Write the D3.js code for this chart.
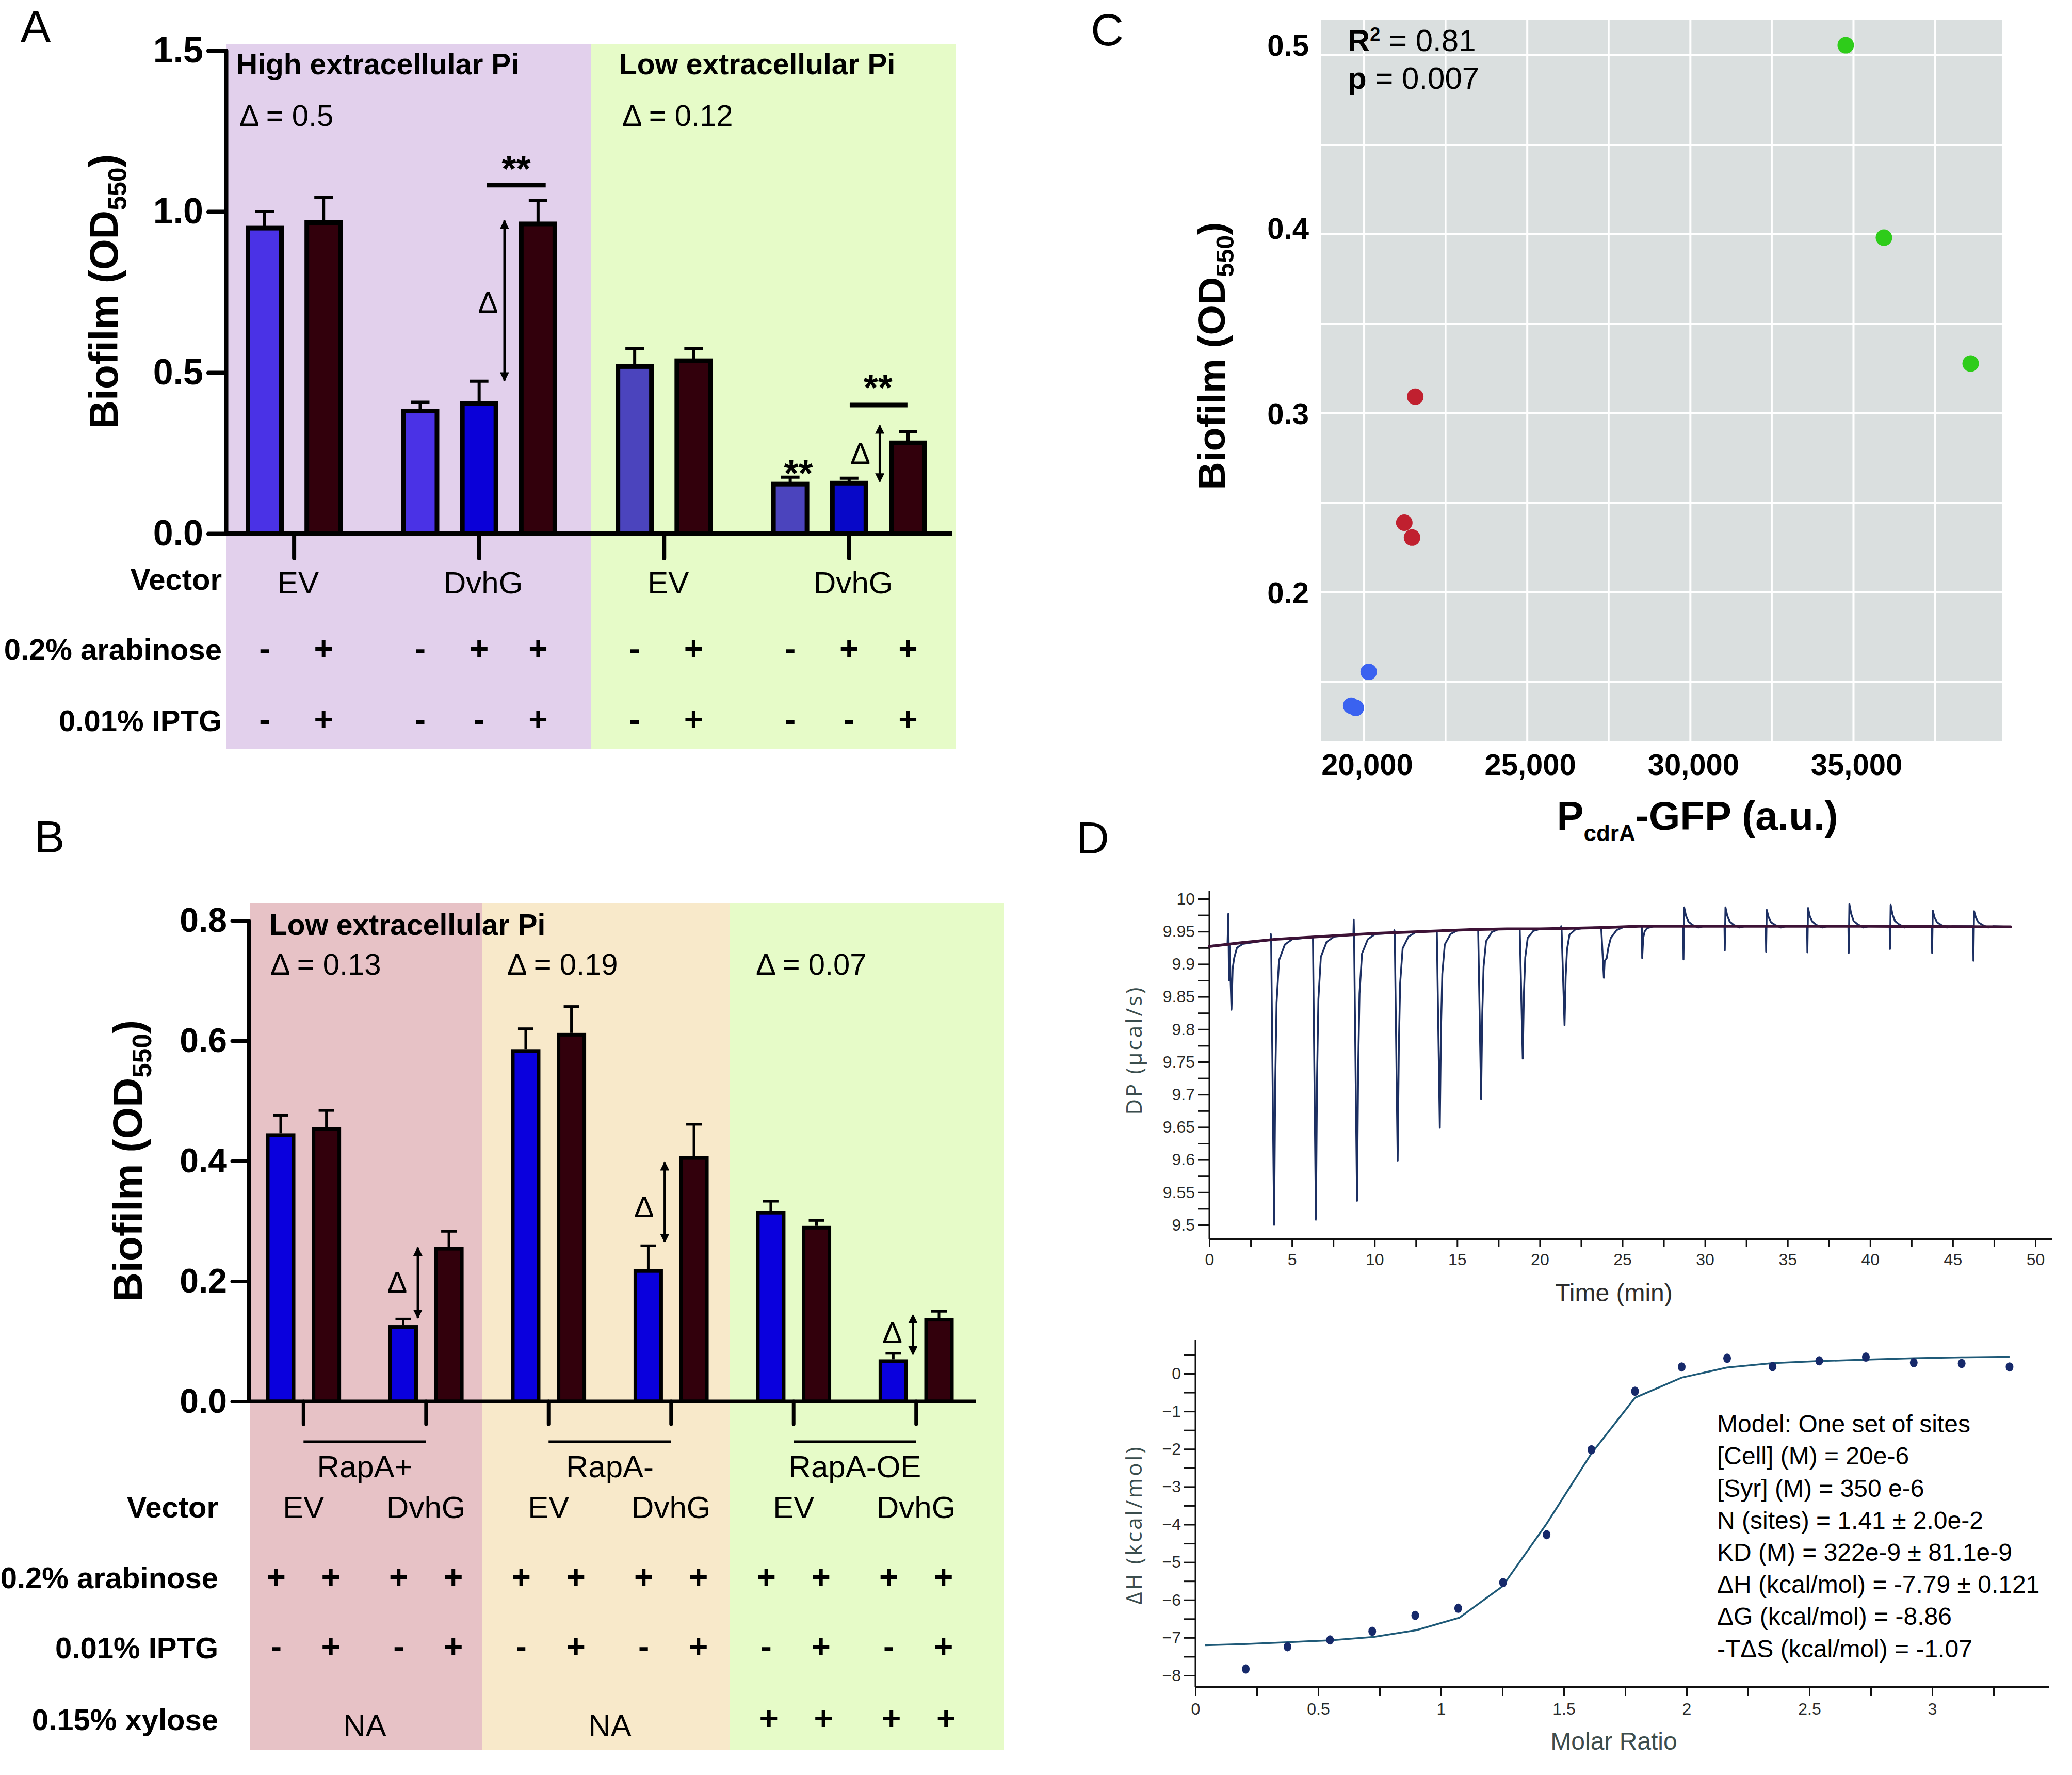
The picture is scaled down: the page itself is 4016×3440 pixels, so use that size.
<!DOCTYPE html>
<html><head><meta charset="utf-8">
<script src="https://cdn.jsdelivr.net/npm/d3@7"></script>
<style>
body{margin:0;background:#fff}
svg{display:block}
</style></head><body>
<svg id="c" width="4016" height="3440"></svg>
<script>
// ================= DATA =================
// Panel A
const aGroupNames = ["EV","DvhG","EV","DvhG"];
const aBarGroup   = [0,0,1,1,1,2,2,3,3,3];
const aValues     = [0.955,0.972,0.387,0.411,0.968,0.525,0.543,0.160,0.163,0.288];
const aErrTop     = [1.000,1.044,0.408,0.473,1.035,0.575,0.575,0.175,0.172,0.317];
const aArabinose  = ["-","+","-","+","+","-","+","-","+","+"];
const aIPTG       = ["-","+","-","-","+","-","+","-","-","+"];
const aKind       = ["hiCtrl","induced","hiCtrl","uninduced","induced","loCtrl","induced","loCtrl","uninducedLo","induced"];
const aPhases     = ["High extracellular Pi","Low extracellular Pi"];
const aDeltas     = ["Δ = 0.5","Δ = 0.12"];
const aYTicks     = [0,0.5,1.0,1.5];

// Panel B
const bStrains    = ["RapA+","RapA-","RapA-OE"];
const bVectors    = ["EV","DvhG","EV","DvhG","EV","DvhG"];
const bValues     = [0.446,0.456,0.127,0.257,0.586,0.613,0.220,0.408,0.317,0.292,0.070,0.139];
const bErrTop     = [0.476,0.484,0.137,0.283,0.620,0.657,0.259,0.461,0.333,0.301,0.080,0.150];
const bArabinose  = ["+","+","+","+","+","+","+","+","+","+","+","+"];
const bIPTG       = ["-","+","-","+","-","+","-","+","-","+","-","+"];
const bXylose     = ["NA","NA","+"];
const bDeltas     = ["Δ = 0.13","Δ = 0.19","Δ = 0.07"];
const bYTicks     = [0,0.2,0.4,0.6,0.8];

// Panel C
const cGFP        = [34762,35933,38591,21567,21230,21468,20139,19603,19742];
const cBiofilm    = [0.5056,0.3981,0.3278,0.3093,0.2389,0.2306,0.1556,0.1367,0.1355];
const cStrain     = ["RapA-OE","RapA-OE","RapA-OE","RapA-","RapA-","RapA-","RapA+","RapA+","RapA+"];
const cXMajor     = [20000,25000,30000,35000];
const cXMinor     = [22500,27500,32500,37500];
const cYMajor     = [0.2,0.3,0.4,0.5];
const cYMinor     = [0.15,0.25,0.35,0.45];

// Panel D (thermogram)
const dpTrace = [
[0,9.928],[0.6,9.929],[1.1,9.930],[1.15,9.977],[1.19,9.875],[1.22,9.930],[1.34,9.830],[1.41,9.893],[1.5,9.909],[1.67,9.925],[2.03,9.931],[2.8,9.934],
[3.70,9.937],[3.72,9.946],[3.74,9.937],[3.92,9.500],[3.99,9.719],[4.07,9.841],[4.22,9.906],[4.57,9.930],[5.02,9.938],[5.8,9.940],
[6.23,9.941],[6.27,9.941],[6.45,9.508],[6.52,9.725],[6.60,9.846],[6.75,9.911],[7.10,9.934],[7.55,9.942],[8.3,9.944],
[8.72,9.945],[8.74,9.968],[8.76,9.945],[8.94,9.537],[9.01,9.741],[9.09,9.855],[9.24,9.916],[9.59,9.938],[10.04,9.946],[10.8,9.947],
[11.18,9.948],[11.2,9.952],[11.22,9.948],[11.40,9.598],[11.47,9.773],[11.55,9.871],[11.70,9.924],[12.05,9.942],[12.5,9.949],[13.3,9.950],
[13.73,9.951],[13.77,9.951],[13.95,9.649],[14.02,9.800],[14.10,9.885],[14.25,9.930],[14.60,9.946],[15.05,9.952],[15.8,9.953],
[16.23,9.953],[16.27,9.953],[16.45,9.693],[16.52,9.823],[16.60,9.896],[16.75,9.935],[17.10,9.949],[17.55,9.954],[18.3,9.954],
[18.75,9.954],[18.79,9.954],[18.97,9.755],[19.04,9.855],[19.12,9.910],[19.27,9.940],[19.62,9.951],[20.07,9.954],[20.8,9.954],
[21.28,9.955],[21.3,9.958],[21.32,9.955],[21.50,9.806],[21.57,9.881],[21.65,9.922],[21.80,9.945],[22.15,9.953],[22.6,9.955],[23.3,9.956],
[23.68,9.956],[23.72,9.956],[23.88,9.879],[23.93,9.905],[24.05,9.909],[24.15,9.925],[24.3,9.940],[24.65,9.952],[25.1,9.957],[25.8,9.958],
[26.18,9.958],[26.2,9.909],[26.26,9.940],[26.35,9.950],[26.5,9.955],[26.9,9.958],[28.3,9.958],
[28.68,9.958],[28.7,9.907],[28.74,9.987],[28.85,9.974],[29.0,9.965],[29.25,9.960],[29.6,9.956],[29.9,9.958],[30.8,9.958],
[31.18,9.958],[31.2,9.921],[31.24,9.987],[31.35,9.974],[31.5,9.965],[31.75,9.960],[32.1,9.956],[32.4,9.958],[33.3,9.958],
[33.68,9.958],[33.7,9.919],[33.74,9.983],[33.85,9.972],[34.0,9.964],[34.25,9.960],[34.6,9.956],[34.9,9.958],[35.8,9.958],
[36.18,9.958],[36.2,9.918],[36.24,9.986],[36.35,9.973],[36.5,9.965],[36.75,9.960],[37.1,9.956],[37.4,9.958],[38.3,9.958],
[38.68,9.958],[38.7,9.917],[38.74,9.992],[38.85,9.977],[39.0,9.966],[39.25,9.961],[39.6,9.956],[39.9,9.958],[40.8,9.958],
[41.18,9.958],[41.2,9.923],[41.24,9.991],[41.35,9.976],[41.5,9.966],[41.75,9.961],[42.1,9.956],[42.4,9.958],[43.3,9.958],
[43.73,9.958],[43.75,9.917],[43.79,9.982],[43.9,9.971],[44.05,9.964],[44.3,9.960],[44.65,9.956],[44.95,9.958],[45.8,9.958],
[46.23,9.958],[46.25,9.905],[46.29,9.981],[46.4,9.971],[46.55,9.964],[46.8,9.960],[47.15,9.956],[47.45,9.958],[48.5,9.957]
];
const dpBaseline = [[0,9.927],[2,9.933],[4,9.938],[6,9.941],[8,9.944],[10,9.947],[12,9.949],[14,9.951],[16,9.953],[18,9.954],[20,9.954],[22,9.955],[24,9.956],[26,9.958],[30,9.958],[40,9.958],[48.5,9.957]];
const dpTicks   = [9.5,9.55,9.6,9.65,9.7,9.75,9.8,9.85,9.9,9.95,10];
const timeTicks = [0,5,10,15,20,25,30,35,40,45,50];

// Panel D (binding isotherm)
const molarRatio = [0.205,0.375,0.548,0.72,0.895,1.07,1.2525,1.43,1.6125,1.79,1.98,2.165,2.35,2.54,2.73,2.925,3.12,3.315];
const deltaH     = [-7.83,-7.24,-7.06,-6.83,-6.41,-6.22,-5.54,-4.27,-2.02,-0.467,0.176,0.406,0.184,0.337,0.437,0.29,0.268,0.176];
const fitRatio   = [0.04,0.2,0.375,0.55,0.725,0.9,1.075,1.25,1.43,1.61,1.79,1.98,2.165,2.35,2.54,2.73,2.925,3.12,3.315];
const fitDH      = [-7.2,-7.17,-7.12,-7.07,-6.98,-6.8,-6.47,-5.64,-3.98,-2.14,-0.64,-0.107,0.16,0.276,0.33,0.37,0.406,0.43,0.444];
const dhTicks    = [-8,-7,-6,-5,-4,-3,-2,-1,0];
const ratioTicks = [0,0.5,1,1.5,2,2.5,3];
const modelText  = ["Model: One set of sites","[Cell] (M) = 20e-6","[Syr] (M) = 350 e-6","N (sites) = 1.41 ± 2.0e-2","KD (M) = 322e-9 ± 81.1e-9","ΔH (kcal/mol) = -7.79 ± 0.121","ΔG (kcal/mol) = -8.86","-TΔS (kcal/mol) = -1.07"];

// ================= STYLE =================
const F = '"Liberation Sans", Arial, Helvetica, sans-serif';
const aColor = {hiCtrl:"#4a32e6", induced:"#32000c", uninduced:"#0a00d8", loCtrl:"#4b44bd", uninducedLo:"#0808c8"};
const bColor = ["#0a00dd","#32000c"];
const cColor = {"RapA-OE":"#2ecc1a","RapA-":"#c0202f","RapA+":"#3a62f0"};

const svg = d3.select("#c");
svg.append("rect").attr("width",4016).attr("height",3440).attr("fill","#fff");
const defs = svg.append("defs");
defs.append("marker").attr("id","ah").attr("viewBox","0 0 10 10").attr("refX",9).attr("refY",5)
  .attr("markerWidth",4).attr("markerHeight",4).attr("orient","auto-start-reverse")
  .append("path").attr("d","M0,0 L10,5 L0,10 z").attr("fill","#000");

function T(g, x, y, s, o={}) {
  const t = g.append("text").attr("x",x).attr("y",y).attr("font-family",o.family||F)
    .attr("font-size",o.size||58).attr("font-weight",o.weight||"normal")
    .attr("text-anchor",o.anchor||"start").attr("fill",o.fill||"#000").attr("dy",o.dy===undefined?"0.36em":o.dy);
  if (o.ls) t.attr("letter-spacing",o.ls);
  t.text(s);
  return t;
}
function ytitle(g, x, y, size) {
  const t = g.append("text").attr("transform",`translate(${x},${y}) rotate(-90)`)
    .attr("text-anchor","middle").attr("font-family",F).attr("font-weight","bold").attr("font-size",size).attr("dy","0.36em");
  t.append("tspan").text("Biofilm (OD");
  t.append("tspan").attr("font-size",size*0.65).attr("dy",size*0.22).text("550");
  t.append("tspan").attr("dy",-size*0.22).text(")");
}
function arrow(g, x, y1, y2) {
  g.append("line").attr("x1",x).attr("x2",x).attr("y1",y1).attr("y2",y2).attr("stroke","#000").attr("stroke-width",4.5)
   .attr("marker-start","url(#ah)").attr("marker-end","url(#ah)");
}
function styleAxis(g, size, weight) {
  g.attr("font-family",F).attr("font-size",size).attr("font-weight",weight);
  g.selectAll("text").attr("fill","#000");
}
const PM = {size:64, anchor:"middle", weight:"bold"};

// ================= PANEL A =================
(function(){
  const g = svg.append("g");
  const y0 = 1034;
  const pos = aBarGroup.map((gi,i)=> i + 0.64*gi);
  const xA = d3.scaleLinear().domain([0, d3.max(pos)]).range([513,1760]);
  const yA = d3.scaleLinear().domain([0,1.5]).range([y0,98]);
  const bw = 65;
  g.append("rect").attr("x",438).attr("y",85).attr("width",707).attr("height",1367).attr("fill","#e2d0ec");
  g.append("rect").attr("x",1145).attr("y",85).attr("width",707).attr("height",1367).attr("fill","#e6fbc8");
  T(g,69,50,"A",{size:88,anchor:"middle"});
  [458,1200].forEach((x,i)=>{
    T(g,x,123,aPhases[i],{size:57,weight:"bold"});
    T(g,x+6,223,aDeltas[i],{size:58});
  });
  g.selectAll(".errA").data(aValues).join("g").each(function(v,i){
    const x = xA(pos[i]);
    d3.select(this).append("line").attr("x1",x).attr("x2",x).attr("y1",yA(v)).attr("y2",yA(aErrTop[i])).attr("stroke","#000").attr("stroke-width",6);
    d3.select(this).append("line").attr("x1",x-18).attr("x2",x+18).attr("y1",yA(aErrTop[i])).attr("y2",yA(aErrTop[i])).attr("stroke","#000").attr("stroke-width",6);
  });
  g.selectAll(".barA").data(aValues).join("rect")
    .attr("x",(d,i)=>xA(pos[i])-bw/2).attr("y",d=>yA(d)+4).attr("width",bw).attr("height",d=>y0-yA(d)-4)
    .attr("fill",(d,i)=>aColor[aKind[i]]).attr("stroke","#000").attr("stroke-width",9);
  const ax = g.append("g").attr("transform","translate(438,0)")
    .call(d3.axisLeft(yA).tickValues(aYTicks).tickFormat(d3.format(".1f")).tickSize(34).tickSizeOuter(0).tickPadding(10));
  styleAxis(ax,70,"bold");
  ax.selectAll("line,path").attr("stroke-width",8).attr("stroke-linecap","round");
  g.append("line").attr("x1",438).attr("x2",1845).attr("y1",y0).attr("y2",y0).attr("stroke","#000").attr("stroke-width",9);
  const centers = aGroupNames.map((n,gi)=> d3.mean(pos.filter((p,i)=>aBarGroup[i]===gi)));
  centers.forEach((c,gi)=>{
    g.append("line").attr("x1",xA(c)).attr("x2",xA(c)).attr("y1",y0).attr("y2",y0+48).attr("stroke","#000").attr("stroke-width",8).attr("stroke-linecap","round");
    T(g,xA(c)+8,1128,aGroupNames[gi],{size:60,anchor:"middle"});
  });
  T(g,430,1122,"Vector",{size:58,weight:"bold",anchor:"end"});
  T(g,430,1258,"0.2% arabinose",{size:58,weight:"bold",anchor:"end"});
  T(g,430,1396,"0.01% IPTG",{size:58,weight:"bold",anchor:"end"});
  pos.forEach((p,i)=>{
    T(g,xA(p),1256,aArabinose[i],PM);
    T(g,xA(p),1393,aIPTG[i],PM);
  });
  ytitle(g,200,565,77);
  g.append("line").attr("x1",xA(3.77)).attr("x2",xA(4.77)).attr("y1",yA(1.082)).attr("y2",yA(1.082)).attr("stroke","#000").attr("stroke-width",9);
  T(g,xA(4.27),yA(1.157)+40,"**",{size:72,weight:"bold",anchor:"middle",dy:0});
  arrow(g,xA(4.07),yA(0.972),yA(0.475));
  T(g,xA(3.79),yA(0.72),"Δ",{size:58,anchor:"middle"});
  g.append("line").attr("x1",xA(9.93)).attr("x2",xA(10.91)).attr("y1",yA(0.399)).attr("y2",yA(0.399)).attr("stroke","#000").attr("stroke-width",9);
  T(g,xA(10.41),yA(0.478)+40,"**",{size:72,weight:"bold",anchor:"middle",dy:0});
  T(g,xA(9.06),yA(0.212)+40,"**",{size:72,weight:"bold",anchor:"middle",dy:0});
  arrow(g,xA(10.44),yA(0.336),yA(0.161));
  T(g,xA(10.11),yA(0.25),"Δ",{size:58,anchor:"middle"});
})();

// ================= PANEL B =================
(function(){
  const g = svg.append("g");
  const y0 = 2716;
  const pos = bValues.map((v,i)=> i + 0.68*Math.floor(i/2));
  const xB = d3.scaleLinear().domain([0, d3.max(pos)]).range([544,1820]);
  const yB = d3.scaleLinear().domain([0,0.8]).range([y0,1784]);
  const bw = 50;
  g.append("rect").attr("x",485).attr("y",1750).attr("width",450).attr("height",1642).attr("fill","#e7c2c6");
  g.append("rect").attr("x",935).attr("y",1750).attr("width",479).attr("height",1642).attr("fill","#f8e9ca");
  g.append("rect").attr("x",1414).attr("y",1750).attr("width",532).attr("height",1642).attr("fill","#e6fbc8");
  T(g,96,1620,"B",{size:88,anchor:"middle"});
  T(g,522,1791,"Low extracellular Pi",{size:57,weight:"bold"});
  [524,983,1465].forEach((x,i)=>T(g,x,1868,bDeltas[i],{size:58}));
  g.selectAll(".errB").data(bValues).join("g").each(function(v,i){
    const x = xB(pos[i]);
    d3.select(this).append("line").attr("x1",x).attr("x2",x).attr("y1",yB(v)).attr("y2",yB(bErrTop[i])).attr("stroke","#000").attr("stroke-width",5);
    d3.select(this).append("line").attr("x1",x-15).attr("x2",x+15).attr("y1",yB(bErrTop[i])).attr("y2",yB(bErrTop[i])).attr("stroke","#000").attr("stroke-width",5);
  });
  g.selectAll(".barB").data(bValues).join("rect")
    .attr("x",(d,i)=>xB(pos[i])-bw/2).attr("y",d=>yB(d)+3.5).attr("width",bw).attr("height",d=>y0-yB(d)-3.5)
    .attr("fill",(d,i)=>bColor[i%2]).attr("stroke","#000").attr("stroke-width",7);
  const ax = g.append("g").attr("transform","translate(482,0)")
    .call(d3.axisLeft(yB).tickValues(bYTicks).tickFormat(d3.format(".1f")).tickSize(32).tickSizeOuter(0).tickPadding(10));
  styleAxis(ax,66,"bold");
  ax.selectAll("line,path").attr("stroke-width",7).attr("stroke-linecap","round");
  g.append("line").attr("x1",482).attr("x2",1892).attr("y1",y0).attr("y2",y0).attr("stroke","#000").attr("stroke-width",7);
  const pairC = bVectors.map((v,k)=> (pos[2*k]+pos[2*k+1])/2);
  pairC.forEach((c,k)=>{
    g.append("line").attr("x1",xB(c)).attr("x2",xB(c)).attr("y1",y0).attr("y2",y0+44).attr("stroke","#000").attr("stroke-width",7).attr("stroke-linecap","round");
    T(g,xB(c),2920,bVectors[k],{size:60,anchor:"middle"});
    const px = xB(c);
    T(g,px-53,3055,bArabinose[2*k],PM);
    T(g,px+53,3055,bArabinose[2*k+1],PM);
    T(g,px-53,3190,bIPTG[2*k],PM);
    T(g,px+53,3190,bIPTG[2*k+1],PM);
  });
  bStrains.forEach((s,j)=>{
    const a = xB(pairC[2*j]), b = xB(pairC[2*j+1]);
    g.append("line").attr("x1",a).attr("x2",b).attr("y1",2794).attr("y2",2794).attr("stroke","#000").attr("stroke-width",5);
    T(g,(a+b)/2,2841,s,{size:60,anchor:"middle"});
    if (bXylose[j]==="NA") T(g,(a+b)/2,3343,"NA",{size:60,anchor:"middle"});
    else [a-53,a+53,b-53,b+53].forEach(x=>T(g,x+5,3329,bXylose[j],PM));
  });
  T(g,423,2920,"Vector",{size:58,weight:"bold",anchor:"end"});
  T(g,423,3057,"0.2% arabinose",{size:58,weight:"bold",anchor:"end"});
  T(g,423,3193,"0.01% IPTG",{size:58,weight:"bold",anchor:"end"});
  T(g,423,3332,"0.15% xylose",{size:58,weight:"bold",anchor:"end"});
  ytitle(g,247,2250,79);
  arrow(g,xB(3.0),yB(0.256),yB(0.139));
  T(g,xB(2.55),yB(0.199),"Δ",{size:58,anchor:"middle"});
  arrow(g,xB(8.4),yB(0.398),yB(0.265));
  T(g,xB(7.95),yB(0.324),"Δ",{size:58,anchor:"middle"});
  arrow(g,xB(13.83),yB(0.144),yB(0.078));
  T(g,xB(13.38),yB(0.115),"Δ",{size:58,anchor:"middle"});
})();

// ================= PANEL C =================
(function(){
  const g = svg.append("g");
  const L=2560,R=3881,Tp=38,B=1437;
  const yAt = v => 107 + (0.5 - v)*3470; // layout: 0.5 gridline at y=107, 0.1 = 347 px
  const xC = d3.scaleLinear().domain([18671,39563]).range([L,R]);
  const yC = d3.scaleLinear().domain([0.5-(107-B)/-3470*-1, 0.5+(107-Tp)/3470]).range([B,Tp]);
  yC.domain([0.5-(B-107)/3470, 0.5+(107-Tp)/3470]);
  g.append("rect").attr("x",L).attr("y",Tp).attr("width",R-L).attr("height",B-Tp).attr("fill","#dadfdf");
  cXMinor.concat(cXMajor).forEach((v,i)=>g.append("line").attr("x1",xC(v)).attr("x2",xC(v)).attr("y1",Tp).attr("y2",B).attr("stroke","#fff").attr("stroke-width",i<4?3:4));
  cYMinor.concat(cYMajor).forEach((v,i)=>g.append("line").attr("y1",yC(v)).attr("y2",yC(v)).attr("x1",L).attr("x2",R).attr("stroke","#fff").attr("stroke-width",i<4?3:4));
  g.selectAll(".pt").data(cGFP).join("circle").attr("cx",d=>xC(d)).attr("cy",(d,i)=>yC(cBiofilm[i])).attr("r",16)
    .attr("fill",(d,i)=>cColor[cStrain[i]]);
  const labelShift = [0,0,-12,-20];
  cYMajor.forEach((v,i)=>T(g,2537,yC(v)+labelShift[i],d3.format(".1f")(v),{size:58,weight:"bold",anchor:"end"}));
  cXMajor.forEach(v=>T(g,xC(v)+6,1481,d3.format(",")(v),{size:58,weight:"bold",anchor:"middle"}));
  T(g,2146,56,"C",{size:88,anchor:"middle"});
  const r2 = g.append("text").attr("x",2612).attr("y",77).attr("dy","0.36em").attr("font-family",F).attr("font-size",60);
  r2.append("tspan").attr("font-weight","bold").text("R");
  r2.append("tspan").attr("font-weight","bold").attr("font-size",36).attr("dy",-20).text("2");
  r2.append("tspan").attr("dy",20).text(" = 0.81");
  const pt = g.append("text").attr("x",2612).attr("y",150).attr("dy","0.36em").attr("font-family",F).attr("font-size",60);
  pt.append("tspan").attr("font-weight","bold").text("p");
  pt.append("tspan").text(" = 0.007");
  ytitle(g,2347,690,75);
  const xt = g.append("text").attr("x",3290).attr("y",1580).attr("dy","0.36em").attr("text-anchor","middle")
    .attr("font-family",F).attr("font-weight","bold").attr("font-size",78);
  xt.append("tspan").text("P");
  xt.append("tspan").attr("font-size",44).attr("dy",22).text("cdrA");
  xt.append("tspan").attr("dy",-22).text("-GFP (a.u.)");
})();

// ================= PANEL D =================
(function(){
  const g = svg.append("g");
  T(g,2118,1622,"D",{size:88,anchor:"middle"});
  const tickCol = "#2a2a2a";
  // --- thermogram
  const xT = d3.scaleLinear().domain([0,50]).range([2344,3945]);
  const yT = d3.scaleLinear().domain([9.5,10]).range([2374,1742]);
  const axY = 2401;
  const gy = g.append("g").attr("transform","translate(2344,0)")
    .call(d3.axisLeft(yT).tickValues(dpTicks).tickFormat(d3.format("~g")).tickSize(22).tickSizeOuter(0).tickPadding(6));
  gy.select(".domain").remove();
  styleAxis(gy,32,"normal"); gy.selectAll("text").attr("fill",tickCol);
  gy.selectAll("line").attr("stroke-width",3).attr("stroke","#111");
  const minorDP = d3.pairs(dpTicks).map(p=>(p[0]+p[1])/2);
  const gy2 = g.append("g").attr("transform","translate(2344,0)")
    .call(d3.axisLeft(yT).tickValues(minorDP).tickFormat("").tickSize(22).tickSizeOuter(0));
  gy2.select(".domain").remove(); gy2.selectAll("line").attr("stroke-width",3).attr("stroke","#111");
  g.append("line").attr("x1",2344).attr("x2",2344).attr("y1",yT(10.012)).attr("y2",axY).attr("stroke","#111").attr("stroke-width",3);
  g.append("line").attr("x1",2344).attr("x2",3978).attr("y1",axY).attr("y2",axY).attr("stroke","#111").attr("stroke-width",4);
  const gx = g.append("g").attr("transform",`translate(0,${axY})`)
    .call(d3.axisBottom(xT).tickValues(timeTicks).tickFormat(d3.format("~g")).tickSize(16).tickSizeOuter(0).tickPadding(12));
  gx.select(".domain").remove();
  styleAxis(gx,32,"normal"); gx.selectAll("text").attr("fill",tickCol);
  gx.selectAll("line").attr("stroke-width",3).attr("stroke","#111");
  const minorT = d3.pairs(timeTicks).map(p=>(p[0]+p[1])/2);
  const gx2 = g.append("g").attr("transform",`translate(0,${axY})`)
    .call(d3.axisBottom(xT).tickValues(minorT).tickFormat("").tickSize(16).tickSizeOuter(0));
  gx2.select(".domain").remove(); gx2.selectAll("line").attr("stroke-width",3).attr("stroke","#111");
  const lineT = d3.line().x(d=>xT(d[0])).y(d=>yT(d[1]));
  g.append("path").attr("d",lineT(dpTrace)).attr("fill","none").attr("stroke","#1c2f62").attr("stroke-width",3.5).attr("stroke-linejoin","round");
  g.append("path").attr("d",lineT(dpBaseline)).attr("fill","none").attr("stroke","#3d1236").attr("stroke-width",5.5).attr("stroke-linecap","round");
  T(g,3128,2505,"Time (min)",{size:48,anchor:"middle",fill:"#2d2d2d"});
  g.append("text").attr("transform","translate(2198,2035) rotate(-90)").attr("text-anchor","middle").attr("dy","0.36em")
    .attr("font-family",'"Open Sans", "DejaVu Sans", sans-serif').attr("font-size",42).attr("letter-spacing",4).attr("fill","#3a4d4d").text("DP (μcal/s)");

  // --- isotherm
  const xM = d3.scaleLinear().domain([0,3]).range([2317,3745]);
  const yH = d3.scaleLinear().domain([-8,0]).range([3247,2662]);
  const axY2 = 3270;
  const hy = g.append("g").attr("transform","translate(2317,0)")
    .call(d3.axisLeft(yH).tickValues(dhTicks).tickFormat(d3.format("~g")).tickSize(22).tickSizeOuter(0).tickPadding(6));
  hy.select(".domain").remove();
  styleAxis(hy,32,"normal"); hy.selectAll("text").attr("fill",tickCol);
  hy.selectAll("line").attr("stroke-width",3).attr("stroke","#111");
  const minorH = d3.pairs(dhTicks).map(p=>(p[0]+p[1])/2).concat([0.5]);
  const hy2 = g.append("g").attr("transform","translate(2317,0)")
    .call(d3.axisLeft(yH).tickValues(minorH).tickFormat("").tickSize(22).tickSizeOuter(0));
  hy2.select(".domain").remove(); hy2.selectAll("line").attr("stroke-width",3).attr("stroke","#111");
  g.append("line").attr("x1",2317).attr("x2",2317).attr("y1",yH(0.89)).attr("y2",axY2).attr("stroke","#111").attr("stroke-width",3);
  g.append("line").attr("x1",2317).attr("x2",3972).attr("y1",axY2).attr("y2",axY2).attr("stroke","#111").attr("stroke-width",4);
  const hx = g.append("g").attr("transform",`translate(0,${axY2})`)
    .call(d3.axisBottom(xM).tickValues(ratioTicks).tickFormat(d3.format("~g")).tickSize(16).tickSizeOuter(0).tickPadding(14));
  hx.select(".domain").remove();
  styleAxis(hx,32,"normal"); hx.selectAll("text").attr("fill",tickCol);
  hx.selectAll("line").attr("stroke-width",3).attr("stroke","#111");
  const minorM = d3.pairs(ratioTicks).map(p=>(p[0]+p[1])/2).concat([3.25]);
  const hx2 = g.append("g").attr("transform",`translate(0,${axY2})`)
    .call(d3.axisBottom(xM).tickValues(minorM).tickFormat("").tickSize(16).tickSizeOuter(0));
  hx2.select(".domain").remove(); hx2.selectAll("line").attr("stroke-width",3).attr("stroke","#111");
  const lineH = d3.line().x(d=>xM(d[0])).y(d=>yH(d[1]));
  g.append("path").attr("d",lineH(fitRatio.map((r,i)=>[r,fitDH[i]]))).attr("fill","none").attr("stroke","#1f5a78").attr("stroke-width",3.5);
  g.selectAll(".hp").data(molarRatio).join("ellipse").attr("cx",d=>xM(d)).attr("cy",(d,i)=>yH(deltaH[i]))
    .attr("rx",7.5).attr("ry",9).attr("fill","#16296a");
  modelText.forEach((s,i)=>T(g,3328,2759+i*62.2,s,{size:48,fill:"#000"}));
  T(g,3128,3374,"Molar Ratio",{size:48,anchor:"middle",fill:"#3d4d4d"});
  g.append("text").attr("transform","translate(2198,2955) rotate(-90)").attr("text-anchor","middle").attr("dy","0.36em")
    .attr("font-family",'"Open Sans", "DejaVu Sans", sans-serif').attr("font-size",42).attr("letter-spacing",4).attr("fill","#3a4d4d").text("ΔH (kcal/mol)");
})();
</script>
</body></html>
